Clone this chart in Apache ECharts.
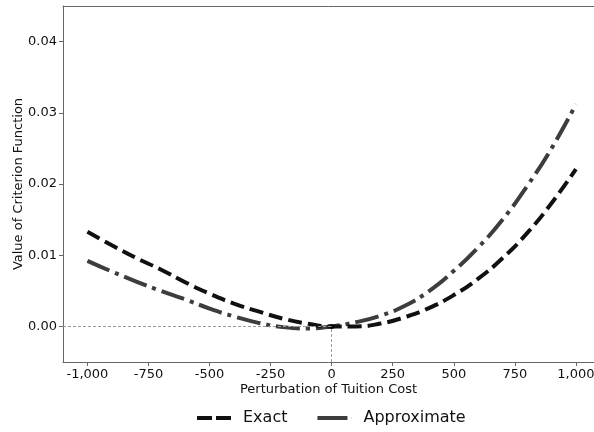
<!DOCTYPE html>
<html>
<head>
<meta charset="utf-8">
<script src="https://cdn.jsdelivr.net/npm/echarts@6/dist/echarts.min.js"></script>
<style>html,body{margin:0;padding:0;background:#fff}#c{width:594px;height:432px}</style>
</head>
<body>
<div id="c"></div>
<script>
const perturbation = [-1000,-900,-800,-700,-600,-500,-400,-300,-200,-100,0,100,200,300,400,500,600,700,800,900,1000];
const exactValues = [0.0133,0.0114,0.0096,0.0080,0.0062,0.0046,0.0032,0.0021,0.0011,0.0004,0.0000,0.0000,0.0004,0.0013,0.0026,0.0044,0.0067,0.0096,0.0131,0.0173,0.0221];
const approxValues = [0.0092,0.0077,0.0063,0.0050,0.0038,0.0025,0.0014,0.0005,-0.0001,-0.0003,0.0000,0.0006,0.0015,0.0029,0.0050,0.0078,0.0111,0.0150,0.0197,0.0250,0.0312];
const xTicks = [-1000,-750,-500,-250,0,250,500,750,1000];
const yTicks = [0,0.01,0.02,0.03,0.04];
const seriesNames = ['Exact','Approximate'];

const chart = echarts.init(document.getElementById('c'), null, {renderer:'canvas'});
const font = 'DejaVu Sans';
const zip = (xs, ys) => xs.map((x,i)=>[x, ys[i]]);
chart.setOption({
  animation:false,
  textStyle:{fontFamily:font},
  grid:{left:63, right:0, top:6, bottom:70, show:false, containLabel:false, outerBoundsMode:'none'},
  xAxis:[{
    type:'value', min:-1100, max:1074,
    name:'Perturbation of Tuition Cost', nameLocation:'middle', nameGap:21, nameMoveOverlap:false,
    nameTextStyle:{fontSize:13, color:'#111', fontFamily:font},
    axisLine:{show:true, onZero:false, lineStyle:{color:'#666'}},
    axisTick:{show:true, length:4, customValues:xTicks, lineStyle:{color:'#666'}},
    axisLabel:{customValues:xTicks, fontSize:13, color:'#111', margin:6, fontFamily:font,
      formatter:v=>v.toLocaleString('en-US')},
    splitLine:{show:false}
  },{
    type:'value', position:'top', min:-1100, max:1074,
    axisLine:{show:true, onZero:false, lineStyle:{color:'#666'}},
    axisTick:{show:false}, axisLabel:{show:false}, splitLine:{show:false}
  }],
  yAxis:{
    type:'value', min:-0.005, max:0.045,
    name:'Value of Criterion Function', nameLocation:'middle', nameGap:38, nameMoveOverlap:false,
    nameTextStyle:{fontSize:13, color:'#111', fontFamily:font},
    axisLine:{show:true, onZero:false, lineStyle:{color:'#666'}},
    axisTick:{show:true, length:4, customValues:yTicks, lineStyle:{color:'#666'}},
    axisLabel:{customValues:yTicks, fontSize:13, color:'#111', margin:6, fontFamily:font,
      formatter:v=>v.toFixed(2)},
    splitLine:{show:false}
  },
  legend:{
    data:[
      {name:'Exact', icon:'path://M0,0H15V4H0Z M19,0H34V4H19Z', itemStyle:{color:'#111'}},
      {name:'Approximate', icon:'path://M0,0H30V4H0Z M33.4,1.8H34V2.2H33.4Z', itemStyle:{color:'#3d3d3d'}}
    ],
    top:405, left:192, itemWidth:34, itemHeight:4, itemGap:30,
    textStyle:{fontSize:16, color:'#111', fontFamily:font, padding:[0,0,0,7]}
  },
  series:[
    {name:'Exact', type:'line', data:zip(perturbation, exactValues), smooth:true, symbol:'none',
      lineStyle:{color:'#111', width:4, type:[14,6]}, itemStyle:{color:'#111'}, z:3,
      markLine:{silent:true, symbol:'none', label:{show:false},
        lineStyle:{color:'#999', width:1, type:[3,2]},
        data:[[{coord:[-1100,0]},{coord:[0,0]}],[{coord:[0,-0.005]},{coord:[0,0]}]]}},
    {name:'Approximate', type:'line', data:zip(perturbation, approxValues), smooth:true, symbol:'none',
      lineStyle:{color:'#3d3d3d', width:4, type:[24,6,4,6]}, itemStyle:{color:'#3d3d3d'}, z:2},
    {name:'origin', type:'scatter', data:[[0,0]], symbolSize:5, itemStyle:{color:'#000'}, z:4}
  ]
});
</script>
</body>
</html>
